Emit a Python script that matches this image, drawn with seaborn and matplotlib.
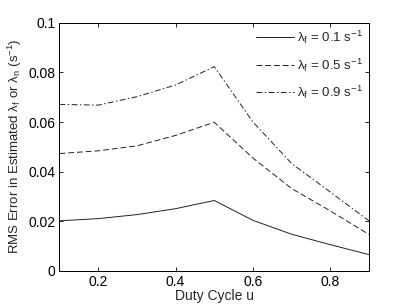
import matplotlib
matplotlib.use("Agg")
import matplotlib.pyplot as plt
import seaborn as sns
import pandas as pd

duty = [0.1, 0.2, 0.3, 0.4, 0.5, 0.6, 0.7, 0.8, 0.9]
err_01 = [0.0202, 0.0211, 0.0227, 0.0251, 0.0284, 0.0204, 0.0148, 0.0106, 0.0066]
err_05 = [0.0473, 0.0484, 0.0504, 0.0546, 0.0599, 0.0455, 0.0332, 0.0242, 0.0147]
err_09 = [0.0671, 0.0668, 0.0702, 0.0749, 0.0823, 0.0600, 0.0433, 0.0318, 0.0202]
labels = [r'λ$_\mathrm{f}$ = 0.1 s$^{-1}$',
          r'λ$_\mathrm{f}$ = 0.5 s$^{-1}$',
          r'λ$_\mathrm{f}$ = 0.9 s$^{-1}$']
xticks = [0.2, 0.4, 0.6, 0.8]
yticks = [0, 0.02, 0.04, 0.06, 0.08, 0.1]
ytick_labels = ['0', '0.02', '0.04', '0.06', '0.08', '0.1']

sns.set_style('ticks')
plt.rcParams['font.family'] = ['Liberation Sans', 'DejaVu Sans']
plt.rcParams['mathtext.fontset'] = 'custom'
plt.rcParams['mathtext.rm'] = 'Liberation Sans'
plt.rcParams['mathtext.it'] = 'Liberation Sans:italic'
plt.rcParams['mathtext.bf'] = 'Liberation Sans:bold'

fig = plt.figure(figsize=(4.07, 3.05), dpi=100)
ax = fig.add_axes([59.5/407, 1 - 271/305, (369-59.5)/407, (271-22.7)/305])

styles = ['-', (0, (6, 3)), (0, (6, 2.5, 1.5, 2.5))]
for vals, lab, ls in zip([err_01, err_05, err_09], labels, styles):
    df = pd.DataFrame({'u': duty, 'e': vals})
    sns.lineplot(data=df, x='u', y='e', ax=ax, color='#222222', linewidth=0.7,
                 linestyle=ls, label=lab)

ax.set_xlim(0.1, 0.9)
ax.set_ylim(0, 0.1)
ax.set_xticks(xticks)
ax.set_xticklabels(['0.2', '0.4', '0.6', '0.8'])
ax.set_yticks(yticks)
ax.set_yticklabels(ytick_labels)
ax.tick_params(direction='in', top=True, right=True, length=3, width=0.6,
               labelsize=10, colors='black', pad=3)
for s in ax.spines.values():
    s.set_visible(True)
    s.set_linewidth(0.7)
    s.set_color('black')
ax.set_xlabel('Duty Cycle u', fontsize=10, labelpad=0)
ax.set_ylabel(r'RMS Error in Estimated λ$_\mathrm{f}$ or λ$_\mathrm{n}$ (s$^{-1}$)',
              fontsize=9.5, labelpad=3)
leg = ax.legend(loc='upper right', frameon=False, fontsize=9.5, handlelength=2.9,
                labelspacing=0.78, borderaxespad=0.05, handletextpad=0.25)
fig.savefig('out.png', dpi=100, facecolor='white')
